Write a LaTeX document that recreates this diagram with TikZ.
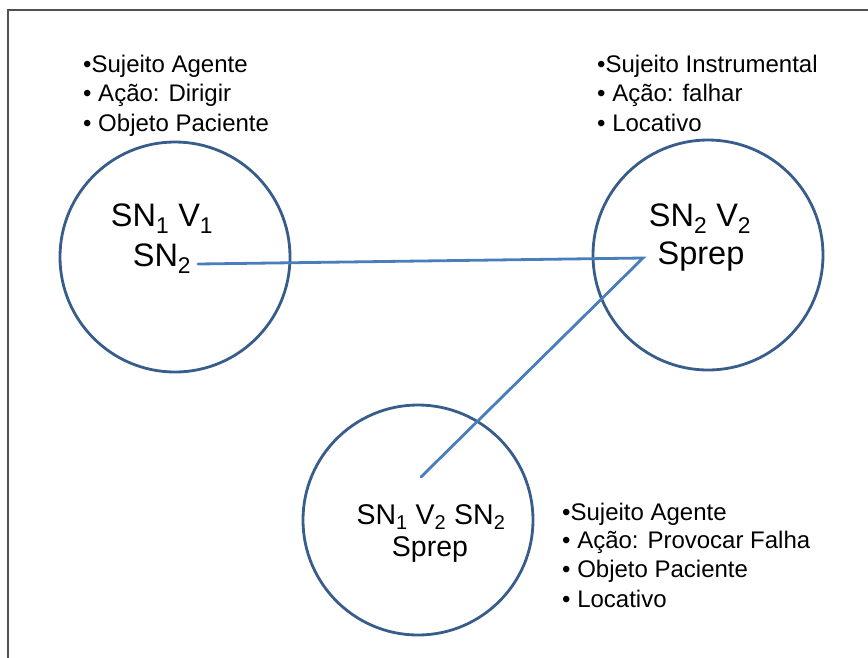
\documentclass[tikz,border=0pt]{standalone}
\usepackage{fontspec}
\setmainfont{Liberation Sans}
\definecolor{circblue}{HTML}{385D8A}
\definecolor{lineblue}{HTML}{4A7EBB}
\definecolor{framegray}{HTML}{505050}
\tikzset{
  x=1pt,y=-1pt,
  bubble/.style={circle,draw=circblue,line width=2.8pt,minimum size=230pt,inner sep=0pt},
  link/.style={draw=lineblue,line width=2.8pt,line cap=round},
  bul/.style={anchor=base west,inner sep=0pt,font=\fontsize{24}{28}\selectfont},
  big/.style={anchor=base,inner sep=0pt,font=\fontsize{32.5}{36}\selectfont},
  mid/.style={anchor=base,inner sep=0pt,font=\fontsize{28.5}{32}\selectfont},
}
\begin{document}
\begin{tikzpicture}
\useasboundingbox (0,0) rectangle (868,657);
\draw[framegray,line width=2pt] (7.5,660) -- (7.5,9.5) -- (870,9.5);
% circles
\node[bubble] (c1) at (175,257) {};
\node[bubble] (c2) at (708,255) {};
\node[bubble] (c3) at (418,520) {};
% circle texts
\node[big] (t1a) at (162,226) {SN\textsubscript{1} V\textsubscript{1}};
\node[big] (t1b) at (162,266) {SN\textsubscript{2}};
\node[big] (t2a) at (700,226) {SN\textsubscript{2} V\textsubscript{2}};
\node[big] (t2b) at (701,264) {Sprep};
\node[mid] (t3a) at (431,524) {SN\textsubscript{1} V\textsubscript{2} SN\textsubscript{2}};
\node[mid] (t3b) at (430,556) {Sprep};
% connectors
\coordinate (p1) at (198,264);
\coordinate (p2) at (643,258);
\coordinate (p3) at (421,477);
\draw[link] (p1) -- (p2) -- (p3);
% lists
\node[bul] (a1) at (83,72) {•Sujeito Agente};
\node[bul] (a2) at (83,101.5) {• Ação: Dirigir};
\node[bul] (a3) at (83,131) {• Objeto Paciente};
\node[bul] (b1) at (597,72) {•Sujeito Instrumental};
\node[bul] (b2) at (597,101.5) {• Ação: falhar};
\node[bul] (b3) at (597,131) {• Locativo};
\node[bul] (d1) at (562,520) {•Sujeito Agente};
\node[bul] (d2) at (562,548) {• Ação: Provocar Falha};
\node[bul] (d3) at (562,577) {• Objeto Paciente};
\node[bul] (d4) at (562,607) {• Locativo};
\end{tikzpicture}
\end{document}
